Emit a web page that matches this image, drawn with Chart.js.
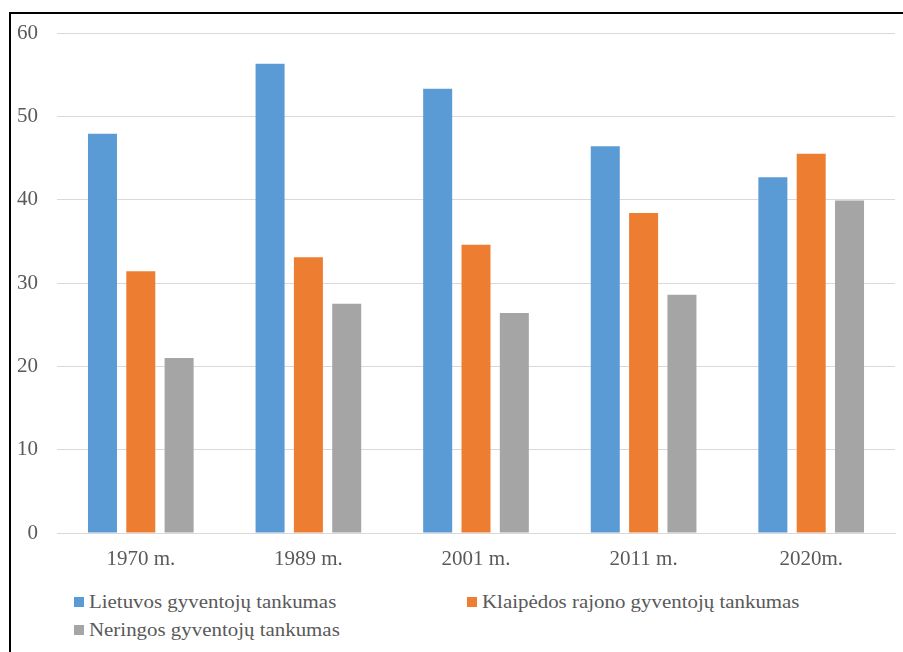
<!DOCTYPE html>
<html>
<head>
<meta charset="utf-8">
<script src="https://cdn.jsdelivr.net/npm/chart.js@4"></script>
<style>
    body { margin: 0; background: #fff; }
    #wrap { position: relative; width: 903px; height: 652px; overflow: hidden; background: #fff; }
    #chart { position: absolute; left: 0; top: 0; }
    #frame { position: absolute; left: 9px; top: 12px; width: 1000px; height: 1000px;
             border-top: 2px solid #000; border-left: 2px solid #000; pointer-events: none; }
    .leg { position: absolute; font-family: "Liberation Serif", "Times New Roman", serif;
           font-size: 19px; color: #595959; white-space: nowrap; line-height: 20px; }
    .leg span.box { position: absolute; left: 0; width: 10px; height: 10px; top: 5px; }
    .leg span.txt { display: inline-block; transform: scaleX(1.1); transform-origin: left center; }
</style>
</head>
<body>
<div id="wrap">
    <canvas id="chart" width="903" height="575"></canvas>
    <div id="legend"></div>
    <div id="frame"></div>
</div>
<script>

const categories = ["1970 m.", "1989 m.", "2001 m.", "2011 m.", "2020m."];
const seriesNames = [
    "Lietuvos gyventojų tankumas",
    "Klaipėdos rajono gyventojų tankumas",
    "Neringos gyventojų tankumas"
];
const lietuva = [47.9, 56.3, 53.3, 46.4, 42.7];
const klaipedosRajonas = [31.4, 33.1, 34.6, 38.4, 45.5];
const neringa = [21.0, 27.5, 26.4, 28.6, 39.9];
const yTicks = [0, 10, 20, 30, 40, 50, 60];

const colors = ["#5B9BD5", "#ED7D31", "#A5A5A5"];
const serif = "'Liberation Serif', 'Times New Roman', serif";

const ctx = document.getElementById("chart").getContext("2d");

const chart = new Chart(ctx, {
    type: "bar",
    data: {
        labels: categories,
        datasets: [lietuva, klaipedosRajonas, neringa].map((d, i) => ({
            label: seriesNames[i],
            data: d,
            backgroundColor: colors[i],
            borderWidth: 0,
            categoryPercentage: 0.686,
            barPercentage: 0.757
        }))
    },
    options: {
        responsive: false,
        animation: false,
        layout: { padding: { top: 33, right: 8, left: 0, bottom: 0 } },
        plugins: {
            legend: { display: false },
            tooltip: { enabled: false }
        },
        scales: {
            x: {
                grid: { display: false, drawTicks: false },
                border: { display: true, color: "#d9d9d9", width: 1 },
                ticks: {
                    color: "#595959",
                    font: { family: serif, size: 21 },
                    padding: 14,
                    maxRotation: 0
                },
                afterFit(scale) { scale.height = 42; }
            },
            y: {
                min: 0,
                max: 60,
                afterBuildTicks(scale) {
                    scale.ticks = yTicks.map(v => ({ value: v }));
                },
                grid: { color: "#d9d9d9", lineWidth: 1, drawTicks: false },
                border: { display: false },
                ticks: {
                    color: "#595959",
                    font: { family: serif, size: 21 },
                    padding: 19
                },
                afterFit(scale) { scale.width = 57; }
            }
        }
    }
});

// legend laid out like the office chart: two columns, left aligned
const legendPos = [
    { x: 74, y: 592 },
    { x: 467, y: 592 },
    { x: 74, y: 620 }
];
const legendBox = document.getElementById("legend");
seriesNames.forEach((name, i) => {
    const item = document.createElement("div");
    item.className = "leg";
    item.style.left = legendPos[i].x + "px";
    item.style.top = legendPos[i].y + "px";
    item.style.paddingLeft = "15px";
    item.innerHTML = '<span class="box" style="background:' + colors[i] + '"></span>' +
        '<span class="txt">' + name + '</span>';
    legendBox.appendChild(item);
});

</script>
</body>
</html>
